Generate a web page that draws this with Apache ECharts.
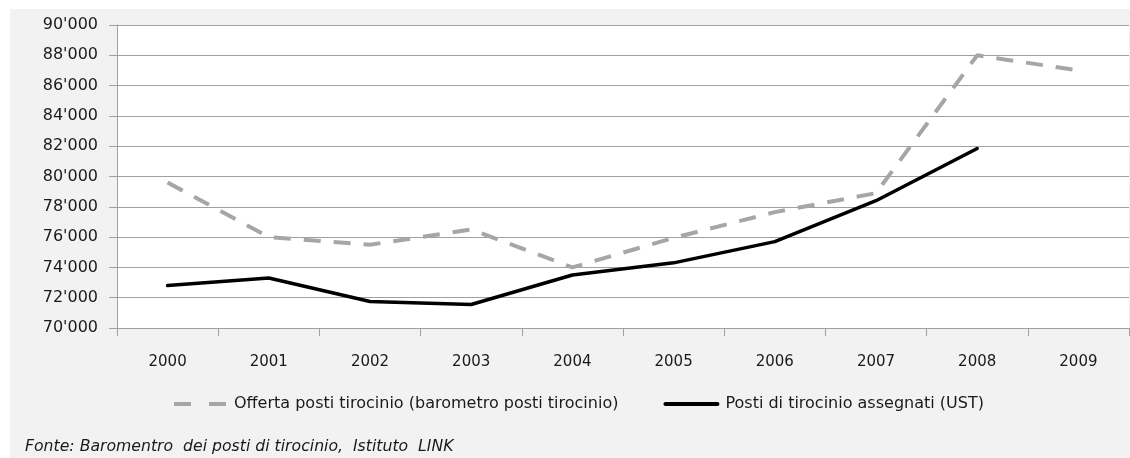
<!DOCTYPE html>
<html>
<head>
<meta charset="utf-8">
<script src="https://cdn.jsdelivr.net/npm/echarts@6/dist/echarts.min.js"></script>
<style>
  html, body { margin: 0; padding: 0; background: #ffffff; }
  #chart { width: 1130px; height: 458px; }
</style>
</head>
<body>
<div id="chart"></div>
<script>
// Years on the category axis
const years = ['2000', '2001', '2002', '2003', '2004', '2005', '2006', '2007', '2008', '2009'];

// Offered apprenticeship places (barometer)
const offerta = [79600, 76000, 75500, 76500, 74000, 75950, 77650, 78900, 88000, 87000];

// Apprenticeship places assigned (UST); no value for 2009
const assegnati = [72800, 73300, 71750, 71550, 73500, 74300, 75700, 78400, 81850, null];

// Value axis ticks
const yMin = 70000;
const yMax = 90000;
const yStep = 2000;

const seriesNames = [
  'Offerta posti tirocinio (barometro posti tirocinio)',
  'Posti di tirocinio assegnati (UST)'
];
const sourceNote = 'Fonte: Baromentro  dei posti di tirocinio,  Istituto  LINK';

function formatThousands(v) {
  return String(v).replace(/\B(?=(\d{3})+(?!\d))/g, "'");
}

const FONT = 'DejaVu Sans';
const TEXT_COLOR = '#1a1a1a';
const chart = echarts.init(document.getElementById('chart'), null, { renderer: 'canvas' });

chart.setOption({
  animation: false,
  backgroundColor: 'transparent',
  graphic: [
    {
      type: 'rect',
      z: -100,
      silent: true,
      shape: { x: 10, y: 9, width: 1120, height: 449 },
      style: { fill: '#f2f2f2' }
    },
    {
      type: 'text',
      left: 25,
      top: 439,
      silent: true,
      style: {
        text: sourceNote,
        fill: TEXT_COLOR,
        font: 'italic 15.7px "' + FONT + '"'
      }
    }
  ],
  grid: {
    left: 117,
    right: 1,
    top: 25,
    bottom: 130,
    show: true,
    backgroundColor: '#ffffff',
    borderWidth: 0
  },
  legend: {
    left: 167,
    top: 391,
    itemWidth: 52,
    itemHeight: 14,
    itemGap: 45,
    itemStyle: { opacity: 0 },
    textStyle: { fontFamily: FONT, fontSize: 16, color: TEXT_COLOR, padding: [0, 0, 0, 3] },
    data: [
      { name: seriesNames[0], lineStyle: { type: [17, 18], width: 4, color: '#a6a6a6' } },
      { name: seriesNames[1], lineStyle: { width: 4, color: '#000000' } }
    ]
  },
  xAxis: {
    type: 'category',
    data: years,
    boundaryGap: true,
    axisLine: { show: true, lineStyle: { color: '#a0a0a0', width: 1 } },
    axisTick: { show: true, interval: 0, length: 8, lineStyle: { color: '#a0a0a0' } },
    axisLabel: { interval: 0, margin: 27, fontFamily: FONT, fontSize: 15, color: TEXT_COLOR }
  },
  yAxis: {
    type: 'value',
    min: yMin,
    max: yMax,
    interval: yStep,
    axisLine: { show: true, lineStyle: { color: '#a0a0a0', width: 1 } },
    axisTick: { show: true, length: 8, lineStyle: { color: '#a0a0a0' } },
    axisLabel: {
      margin: 19,
      fontFamily: FONT,
      fontSize: 16,
      color: TEXT_COLOR,
      formatter: formatThousands
    },
    splitLine: { show: true, lineStyle: { color: '#a0a0a0', width: 1 } }
  },
  series: [
    {
      name: seriesNames[0],
      type: 'line',
      data: offerta,
      symbol: 'none',
      smooth: false,
      lineStyle: { color: '#a6a6a6', width: 4, type: [17, 13], cap: 'butt' },
      itemStyle: { color: '#a6a6a6' },
      z: 3
    },
    {
      name: seriesNames[1],
      type: 'line',
      data: assegnati,
      symbol: 'none',
      smooth: false,
      connectNulls: false,
      lineStyle: { color: '#000000', width: 3.5, cap: 'round', join: 'round' },
      itemStyle: { color: '#000000' },
      z: 4
    }
  ]
});
</script>
</body>
</html>
